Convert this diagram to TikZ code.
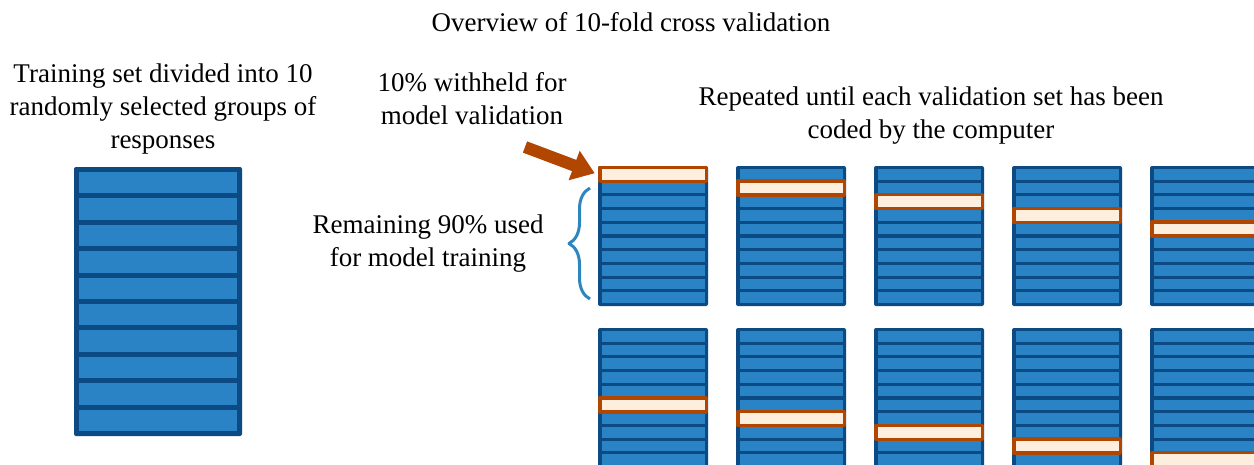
\documentclass[tikz,border=0pt]{standalone}
\usepackage{fontspec}
\setmainfont{Liberation Serif}
\usetikzlibrary{arrows.meta,decorations.pathreplacing,positioning}
\definecolor{foldblue}{HTML}{0B4A82}
\definecolor{rowblue}{HTML}{2A83C4}
\definecolor{holdout}{HTML}{B14600}
\definecolor{holdfill}{HTML}{FDEEDD}
\definecolor{bracecol}{HTML}{2E86C1}
\begin{document}
\begin{tikzpicture}[x=1pt,y=-1pt,line join=round,
  lbl/.style={align=center,inner sep=0pt,font=\fontsize{27}{33}\selectfont},
  foldbox/.style={fill=foldblue,rounded corners=2pt},
  rowbar/.style={fill=rowblue},
  testrow/.style={draw=holdout,fill=holdfill,line width=3.5pt},
  bigarrow/.style={holdout,line width=12pt,-{Triangle[length=22pt,width=30pt]}}]
\useasboundingbox (0,0) rectangle (1254,464);
\clip (0,0) rectangle (1254,464);
\node[lbl] (title) at (631,22) {Overview of 10-fold cross validation};
\node[lbl] (trainlbl) at (163,109) {Training set divided into 10\\randomly selected groups of\\responses};
\node[lbl] (holdlbl) at (472,99) {10\% withheld for\\model validation};
\node[lbl] (repeatlbl) at (931,116) {Repeated until each validation set has been\\coded by the computer};
\node[lbl] (remainlbl) at (428,244) {Remaining 90\% used\\for model training};
% whole training set
\fill[foldbox] (74,167) rectangle +(168,269);
\foreach \k in {0,...,9}
  \fill[rowbar] (79,172+26.4*\k) rectangle +(158,21.4);
% the ten folds
\foreach \c in {0,...,4}{
  \foreach \r/\y in {0/166,1/328}{
    \pgfmathsetmacro\xa{598+138*\c}
    \pgfmathtruncatemacro\h{\c+5*\r}
    \fill[foldbox] (\xa,\y) rectangle +(110,140);
    \foreach \k in {0,...,9}
      \fill[rowbar] (\xa+3.5,\y+3+13.72*\k) rectangle +(103,10.5);
    \draw[testrow] (\xa+1.75,\y+1.25+13.72*\h) coordinate (hold-\h) rectangle +(106.5,14);
  }
}
\coordinate (arrowtail) at (525,147);
\draw[bigarrow] (arrowtail) -- ([shift={(-5,6)}]hold-0);
\draw[bracecol,line width=3pt,decorate,decoration={brace,amplitude=21pt}] (590,299) -- (590,188);
\end{tikzpicture}
\end{document}
